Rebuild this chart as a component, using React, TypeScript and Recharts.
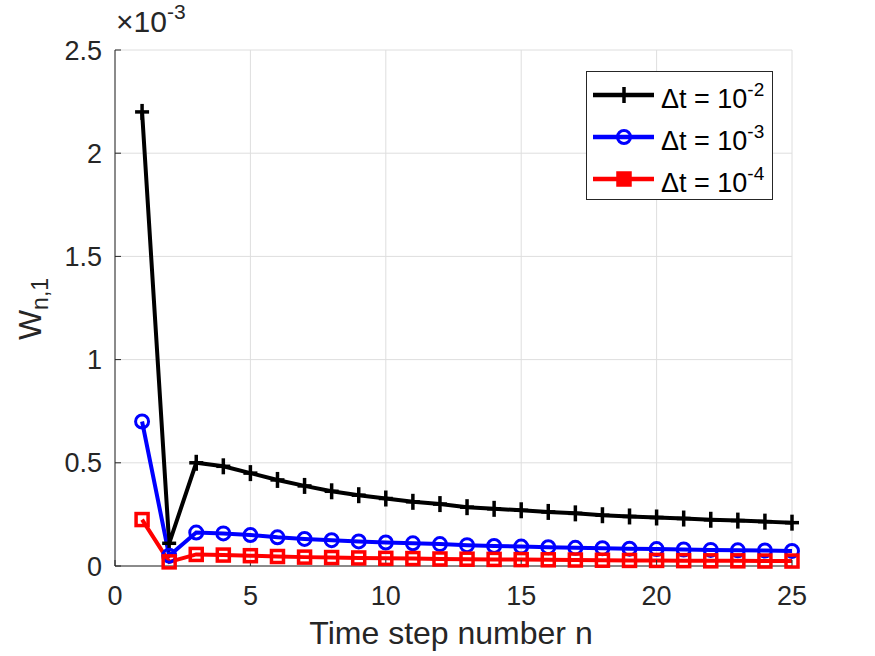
import { CartesianGrid, Line, LineChart, XAxis, YAxis } from 'recharts';

// time step index n
const steps = [1, 2, 3, 4, 5, 6, 7, 8, 9, 10, 11, 12, 13, 14, 15, 16, 17, 18, 19, 20, 21, 22, 23, 24, 25];

// W_{n,1} in units of 1e-3
const dt2 = [
  2.2, 0.11, 0.5, 0.483, 0.45, 0.417, 0.388, 0.362, 0.343, 0.327, 0.311, 0.3, 0.285, 0.277, 0.27, 0.262,
  0.255, 0.246, 0.24, 0.235, 0.23, 0.224, 0.22, 0.215, 0.21,
];
const dt3 = [
  0.7, 0.05, 0.162, 0.158, 0.15, 0.139, 0.131, 0.125, 0.119, 0.114, 0.11, 0.106, 0.101, 0.097, 0.094, 0.091,
  0.088, 0.086, 0.084, 0.082, 0.08, 0.078, 0.076, 0.075, 0.073,
];
const dt4 = [
  0.225, 0.02, 0.056, 0.053, 0.05, 0.046, 0.043, 0.041, 0.039, 0.037, 0.036, 0.034, 0.033, 0.032, 0.031, 0.03,
  0.029, 0.028, 0.027, 0.027, 0.026, 0.025, 0.025, 0.024, 0.024,
];

const xTicks = [0, 5, 10, 15, 20, 25];
const yTicks = [0, 0.5, 1, 1.5, 2, 2.5];

const seriesInfo = [
  { key: 'dt2', exp: '-2', color: '#000000', marker: 'plus' },
  { key: 'dt3', exp: '-3', color: '#0000ff', marker: 'circle' },
  { key: 'dt4', exp: '-4', color: '#ff0000', marker: 'square' },
];

const data = steps.map((n, i) => ({ n, dt2: dt2[i], dt3: dt3[i], dt4: dt4[i] }));

const FONT = 'Arial, "Liberation Sans", Helvetica, sans-serif';
const INK = '#262626';

function Marker({ kind, cx, cy, color, filled }: { kind: string; cx: number; cy: number; color: string; filled?: boolean }) {
  if (kind === 'plus') {
    return (
      <g stroke={color} strokeWidth={3.5}>
        <line x1={cx - 7} y1={cy} x2={cx + 7} y2={cy} />
        <line x1={cx} y1={cy - 8} x2={cx} y2={cy + 8} />
      </g>
    );
  }
  if (kind === 'circle') {
    return <circle cx={cx} cy={cy} r={6.5} fill="none" stroke={color} strokeWidth={3} />;
  }
  return (
    <rect
      x={cx - 6}
      y={cy - 6}
      width={12}
      height={12}
      fill={filled ? color : 'none'}
      stroke={color}
      strokeWidth={3.5}
    />
  );
}

function dotFor(kind: string, color: string) {
  return (props: any) => {
    const { cx, cy, index } = props;
    if (cx == null || cy == null) return <g key={index} />;
    return (
      <g key={`${kind}-${index}`}>
        <Marker kind={kind} cx={cx} cy={cy} color={color} />
      </g>
    );
  };
}

function LegendBox() {
  return (
    <div
      style={{
        position: 'absolute',
        left: 586,
        top: 71,
        border: `1px solid ${INK}`,
        background: '#fff',
        width: 187,
        height: 129,
        boxSizing: 'border-box',
        padding: '2px 0 0 6px',
        fontFamily: FONT,
      }}
    >
      {seriesInfo.map((s) => (
        <div key={s.key} style={{ display: 'flex', alignItems: 'center', height: 42 }}>
          <svg width={62} height={20} style={{ flex: 'none' }}>
            <line x1={0} y1={10} x2={61} y2={10} stroke={s.color} strokeWidth={4.5} />
            <Marker kind={s.marker} cx={31} cy={10} color={s.color} filled />
          </svg>
          <span style={{ fontSize: 27, color: '#000', marginLeft: 6, whiteSpace: 'nowrap', lineHeight: 1, position: 'relative', top: 4 }}>
            Δt = 10
            <sup style={{ fontSize: 19, verticalAlign: 0, position: 'relative', top: -12 }}>{s.exp}</sup>
          </span>
        </div>
      ))}
    </div>
  );
}

export default function App() {
  return (
    <div style={{ position: 'absolute', left: 0, top: 0, width: 875, height: 656, background: '#fff' }}>
      <LineChart width={875} height={656} data={data} margin={{ top: 50, right: 83, bottom: 30, left: 55 }}>
        <CartesianGrid stroke="#dedede" strokeWidth={1} />
        <XAxis
          dataKey="n"
          type="number"
          domain={[0, 25]}
          ticks={xTicks}
          height={60}
          tickLine={{ stroke: INK, strokeWidth: 1 }}
          tickSize={-6}
          tickMargin={26}
          axisLine={{ stroke: INK, strokeWidth: 1 }}
          tick={{ fontSize: 27, fill: INK, fontFamily: FONT }}
        />
        <YAxis
          type="number"
          domain={[0, 2.5]}
          ticks={yTicks}
          width={60}
          tickLine={{ stroke: INK, strokeWidth: 1 }}
          tickSize={-6}
          tickMargin={19}
          axisLine={{ stroke: INK, strokeWidth: 1 }}
          tick={{ fontSize: 27, fill: INK, fontFamily: FONT }}
        />
        {seriesInfo.map((s) => (
          <Line
            key={s.key}
            dataKey={s.key}
            stroke={s.color}
            strokeWidth={4}
            dot={dotFor(s.marker, s.color)}
            activeDot={false}
            isAnimationActive={false}
          />
        ))}
      </LineChart>
      <LegendBox />
      <div
        style={{
          position: 'absolute',
          left: 116,
          top: 7,
          fontFamily: FONT,
          fontSize: 30,
          color: INK,
          whiteSpace: 'nowrap',
          lineHeight: 1,
        }}
      >
        ×10
        <sup style={{ fontSize: 21, verticalAlign: 0, position: 'relative', top: -13 }}>-3</sup>
      </div>
      <div
        style={{
          position: 'absolute',
          left: 30,
          top: 309,
          transform: 'translate(-50%, -50%) rotate(-90deg)',
          fontFamily: FONT,
          fontSize: 32,
          color: INK,
          whiteSpace: 'nowrap',
          lineHeight: 1,
        }}
      >
        W<sub style={{ fontSize: 23, verticalAlign: 0, position: 'relative', top: 7 }}>n,1</sub>
      </div>
      <div
        style={{
          position: 'absolute',
          left: 451,
          top: 633,
          transform: 'translate(-50%, -50%)',
          fontFamily: FONT,
          fontSize: 32,
          color: INK,
          whiteSpace: 'nowrap',
          lineHeight: 1,
        }}
      >
        Time step number n
      </div>
    </div>
  );
}
